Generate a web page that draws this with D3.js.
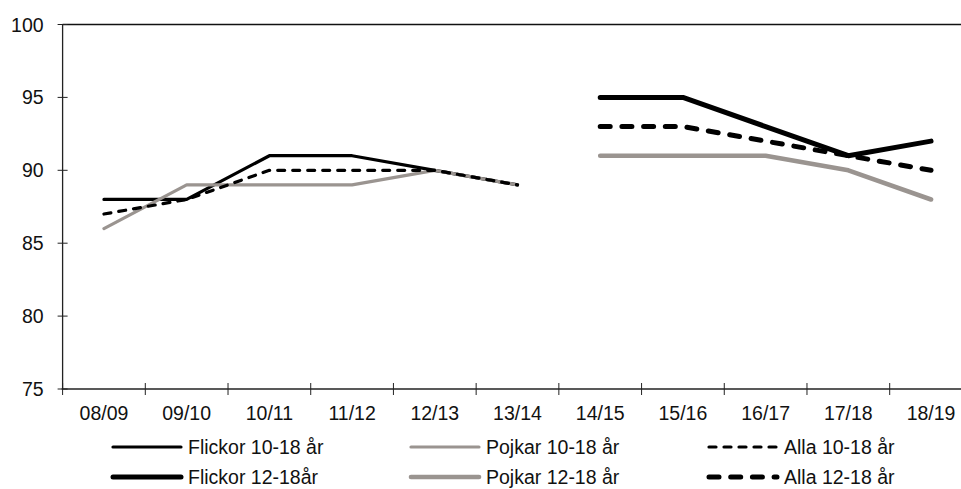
<!DOCTYPE html>
<html>
<head>
<meta charset="utf-8">
<script src="https://cdn.jsdelivr.net/npm/d3@7"></script>
<style>
  html, body { margin: 0; padding: 0; background: #fff; }
  svg { display: block; font-family: "Liberation Sans", Arial, sans-serif; }
</style>
</head>
<body>
<div id="chart"></div>
<script>
// data
var categories = ["08/09", "09/10", "10/11", "11/12", "12/13", "13/14", "14/15", "15/16", "16/17", "17/18", "18/19"];
var yTicks = [75, 80, 85, 90, 95, 100];

var flickor1018 = [88, 88, 91, 91, 90, 89, null, null, null, null, null];
var pojkar1018  = [86, 89, 89, 89, 90, 89, null, null, null, null, null];
var alla1018    = [87, 88, 90, 90, 90, 89, null, null, null, null, null];
var flickor1218 = [null, null, null, null, null, null, 95, 95, 93, 91, 92];
var pojkar1218  = [null, null, null, null, null, null, 91, 91, 91, 90, 88];
var alla1218    = [null, null, null, null, null, null, 93, 93, 92, 91, 90];

var seriesNames = ["Flickor 10-18 år", "Pojkar 10-18 år", "Alla 10-18 år",
                   "Flickor 12-18år", "Pojkar 12-18 år", "Alla 12-18 år"];

window.onload = function() {
    'use strict';

    var width = 961, height = 489;
    var black = "#000", gray = "#9a9490";

    var series = [
        { name: seriesNames[0], values: flickor1018, color: black, w: 3.2, dash: null },
        { name: seriesNames[1], values: pojkar1018,  color: gray,  w: 3.2, dash: null },
        { name: seriesNames[2], values: alla1018,    color: black, w: 3.2, dash: "7,8" },
        { name: seriesNames[3], values: flickor1218, color: black, w: 5,   dash: null },
        { name: seriesNames[4], values: pojkar1218,  color: gray,  w: 4.6, dash: null },
        { name: seriesNames[5], values: alla1218,    color: black, w: 5,   dash: "10,11.7" }
    ];

    var svg = d3.select('#chart')
        .append('svg')
        .attr('width', width)
        .attr('height', height);

    var left = 62.6, right = 972.4, top = 24.5, bottom = 389;

    var x = d3.scaleBand().domain(categories).range([left, right]);
    var y = d3.scaleLinear().domain([75, 100]).range([bottom, top]);

    // plot frame (top edge; right edge is outside the picture)
    svg.append('line')
        .attr('x1', left).attr('x2', right)
        .attr('y1', top).attr('y2', top)
        .attr('stroke', '#111').attr('stroke-width', 1.3);

    // y axis
    var yAxis = svg.append('g').attr('transform', 'translate(' + left + ',0)');
    yAxis.append('line')
        .attr('y1', top).attr('y2', bottom)
        .attr('stroke', '#222').attr('stroke-width', 1.3);
    yAxis.selectAll('.tick')
        .data(yTicks)
        .enter()
        .append('line')
        .attr('x1', -5).attr('x2', 5)
        .attr('y1', function(d) { return y(d); })
        .attr('y2', function(d) { return y(d); })
        .attr('stroke', '#222').attr('stroke-width', 1);
    yAxis.selectAll('text')
        .data(yTicks)
        .enter()
        .append('text')
        .attr('x', -19)
        .attr('y', function(d) { return y(d); })
        .attr('dy', '0.36em')
        .attr('text-anchor', 'end')
        .attr('font-size', '19.5px')
        .attr('fill', '#111')
        .text(function(d) { return d; });

    // x axis
    var xAxis = svg.append('g').attr('transform', 'translate(0,' + bottom + ')');
    xAxis.append('line')
        .attr('x1', left - 1).attr('x2', right)
        .attr('stroke', '#222').attr('stroke-width', 1.3);
    var bounds = categories.map(function(c) { return x(c); }).concat([right]);
    xAxis.selectAll('.tick')
        .data(bounds)
        .enter()
        .append('line')
        .attr('x1', function(d) { return d; })
        .attr('x2', function(d) { return d; })
        .attr('y1', -6).attr('y2', 6)
        .attr('stroke', '#222').attr('stroke-width', 1);
    xAxis.selectAll('text')
        .data(categories)
        .enter()
        .append('text')
        .attr('x', function(d) { return x(d) + x.bandwidth() / 2; })
        .attr('y', 24)
        .attr('dy', '0.36em')
        .attr('text-anchor', 'middle')
        .attr('font-size', '19.5px')
        .attr('fill', '#111')
        .text(function(d) { return d; });

    // lines
    var line = d3.line()
        .defined(function(d) { return d != null; })
        .x(function(d, i) { return x(categories[i]) + x.bandwidth() / 2; })
        .y(function(d) { return y(d); });

    svg.selectAll('path.series')
        .data(series)
        .enter()
        .append('path')
        .attr('class', 'series')
        .attr('d', function(s) { return line(s.values); })
        .attr('fill', 'none')
        .attr('stroke', function(s) { return s.color; })
        .attr('stroke-width', function(s) { return s.w; })
        .attr('stroke-dasharray', function(s) { return s.dash; })
        .attr('stroke-linecap', 'round')
        .attr('stroke-linejoin', 'round');

    // legend, 3 columns x 2 rows
    var legend = svg.append('g');
    var items = legend.selectAll('g')
        .data(series)
        .enter()
        .append('g')
        .attr('transform', function(s, i) {
            var col = i % 3, row = Math.floor(i / 3);
            return 'translate(' + (112 + col * 298) + ',' + (447 + row * 30) + ')';
        });
    items.append('line')
        .attr('x1', 1).attr('x2', 69)
        .attr('stroke', function(s) { return s.color; })
        .attr('stroke-width', function(s) { return s.w; })
        .attr('stroke-dasharray', function(s) { return s.dash; })
        .attr('stroke-linecap', 'round');
    items.append('text')
        .attr('x', 76)
        .attr('dy', '0.36em')
        .attr('font-size', '19.5px')
        .attr('fill', '#111')
        .text(function(s) { return s.name; });
};
</script>
</body>
</html>
